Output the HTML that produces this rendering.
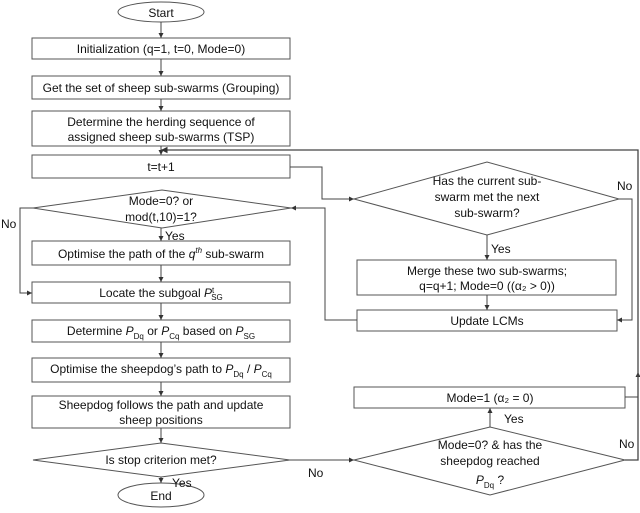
<!DOCTYPE html>
<html><head><style>body{margin:0;background:#fff}svg{display:block}text{font-family:"Liberation Sans",sans-serif;font-size:12px;fill:#111}</style></head><body>
<svg width="640" height="513" viewBox="0 0 640 513" xmlns="http://www.w3.org/2000/svg">
<defs><marker id="a" markerWidth="6" markerHeight="6" refX="5" refY="3" orient="auto"><path d="M0,0.5 L5,3 L0,5.5z" fill="#333"/></marker></defs>
<g fill="#fff" stroke="#555" stroke-width="1">
<ellipse cx="161" cy="12" rx="43" ry="10"/>
<rect x="32" y="38" width="258" height="21"/>
<rect x="32" y="76" width="258" height="23"/>
<rect x="32" y="111" width="258" height="35"/>
<rect x="32" y="155" width="258" height="23"/>
<polygon points="33,208 162,190 291,208 162,228"/>
<rect x="32" y="241" width="258" height="24"/>
<rect x="32" y="282" width="258" height="21"/>
<rect x="32" y="320" width="258" height="22"/>
<rect x="32" y="358" width="258" height="24"/>
<rect x="32" y="396" width="258" height="32"/>
<polygon points="33,460 161,443 290,460 161,477"/>
<ellipse cx="161" cy="495" rx="43" ry="12"/>
<polygon points="354,199 487,162 619,199 487,235"/>
<rect x="357" y="260" width="259" height="35"/>
<rect x="357" y="310" width="260" height="21"/>
<rect x="354" y="387" width="271" height="21"/>
<polygon points="354,460 490,427 625,460 490,495"/>
</g>
<g fill="none" stroke="#444" stroke-width="1" marker-end="url(#a)">
<line x1="161" y1="22" x2="161" y2="38"/>
<line x1="161" y1="59" x2="161" y2="76"/>
<line x1="161" y1="99" x2="161" y2="111"/>
<line x1="161" y1="146" x2="161" y2="155"/>
<line x1="161" y1="228" x2="161" y2="241"/>
<line x1="161" y1="265" x2="161" y2="282"/>
<line x1="161" y1="303" x2="161" y2="320"/>
<line x1="161" y1="342" x2="161" y2="358"/>
<line x1="161" y1="382" x2="161" y2="396"/>
<line x1="161" y1="428" x2="161" y2="443"/>
<line x1="161" y1="477" x2="161" y2="483"/>
<polyline points="33,208 20,208 20,293 32,293"/>
<polyline points="290,167 322,167 322,199 354,199"/>
<polyline points="357,320 325,320 325,208 291,208"/>
<line x1="487" y1="235" x2="487" y2="260"/>
<line x1="487" y1="295" x2="487" y2="310"/>
<polyline points="619,199 632,199 632,320 617,320"/>
<polyline points="290,460 354,460"/>
<line x1="490" y1="427" x2="490" y2="408"/>
<polyline points="625,397 638,397 638,372"/>
<polyline points="625,460 638,460 638,150 161,150" stroke-width="1.3"/>
</g>
<g text-anchor="middle">
<text x="161" y="17">Start</text>
<text x="161" y="53">Initialization (q=1, t=0, Mode=0)</text>
<text x="161" y="92">Get the set of sheep sub-swarms (Grouping)</text>
<text x="161" y="126">Determine the herding sequence of</text>
<text x="161" y="141">assigned sheep sub-swarms (TSP)</text>
<text x="161" y="171">t=t+1</text>
<text x="161" y="205">Mode=0? or</text>
<text x="161" y="221">mod(t,10)=1?</text>
<text x="161" y="258">Optimise the path of the <tspan font-style="italic">q</tspan><tspan dy="-5" font-size="8" font-style="italic">th</tspan><tspan dy="5"> sub-swarm</tspan></text>
<text x="161" y="297">Locate the subgoal <tspan font-style="italic">P</tspan><tspan dy="-4" font-size="8">t</tspan><tspan dx="-3" dy="7" font-size="8">SG</tspan></text>
<text x="161" y="335">Determine <tspan font-style="italic">P</tspan><tspan font-size="8" dy="4">Dq</tspan><tspan dy="-4"> or </tspan><tspan font-style="italic">P</tspan><tspan font-size="8" dy="4">Cq</tspan><tspan dy="-4"> based on </tspan><tspan font-style="italic">P</tspan><tspan font-size="8" dy="4">SG</tspan></text>
<text x="161" y="373">Optimise the sheepdog’s path to <tspan font-style="italic">P</tspan><tspan font-size="8" dy="4">Dq</tspan><tspan dy="-4"> / </tspan><tspan font-style="italic">P</tspan><tspan font-size="8" dy="4">Cq</tspan></text>
<text x="161" y="409">Sheepdog follows the path and update</text>
<text x="161" y="424">sheep positions</text>
<text x="161" y="464">Is stop criterion met?</text>
<text x="161" y="500">End</text>
<text x="487" y="185">Has the current sub-</text>
<text x="487" y="201">swarm met the next</text>
<text x="487" y="217">sub-swarm?</text>
<text x="487" y="275">Merge these two sub-swarms;</text>
<text x="487" y="290">q=q+1; Mode=0 ((α₂ &gt; 0))</text>
<text x="487" y="325">Update LCMs</text>
<text x="490" y="402">Mode=1 (α₂ = 0)</text>
<text x="490" y="449">Mode=0? &amp; has the</text>
<text x="490" y="465">sheepdog reached</text>
<text x="490" y="484"><tspan font-style="italic">P</tspan><tspan font-size="8" dy="4">Dq</tspan><tspan dy="-4"> ?</tspan></text>
</g>
<text x="1" y="228">No</text>
<text x="165" y="240">Yes</text>
<text x="172" y="487">Yes</text>
<text x="308" y="477">No</text>
<text x="491" y="253">Yes</text>
<text x="504" y="423">Yes</text>
<text x="617" y="190">No</text>
<text x="619" y="448">No</text>
</svg>
</body></html>
